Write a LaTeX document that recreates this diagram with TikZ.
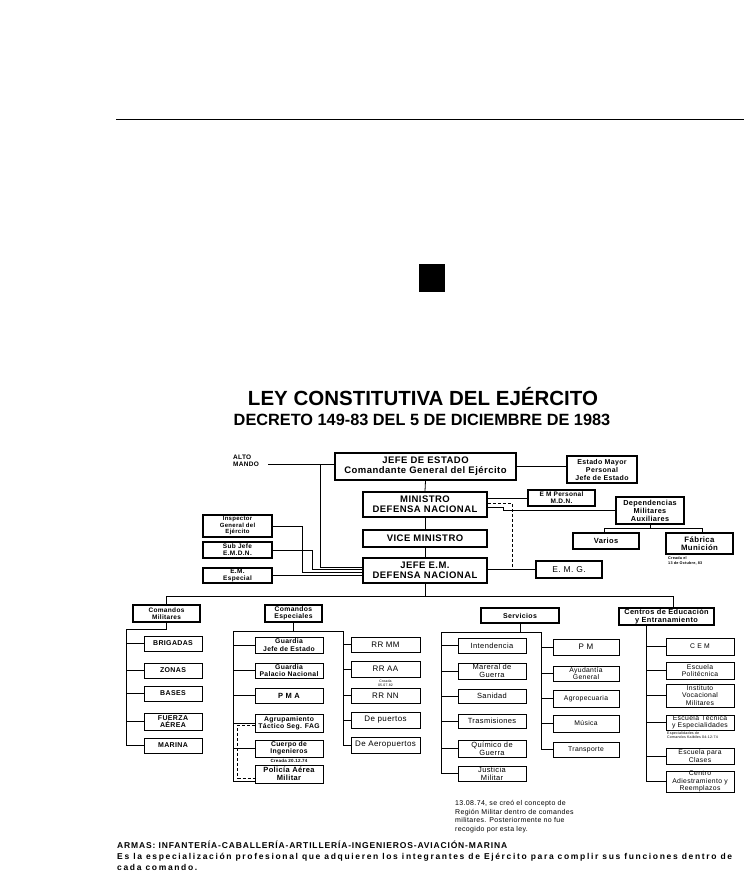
\documentclass[tikz,border=0pt]{standalone}
\usepackage{fontspec}
\setmainfont{Liberation Sans}[LetterSpace=5]
\newfontfamily\plainsans{Liberation Sans}
\newfontfamily\trkA{Liberation Sans}[LetterSpace=10]
\newfontfamily\trkB{Liberation Sans}[LetterSpace=19.5]
\newcommand{\myfs}[2]{\fontsize{#1}{#2}\selectfont}
\tikzset{
  bx/.style={draw, line width=0.8pt, inner sep=0pt, align=center},
  tbx/.style={bx, line width=1.7pt},
  conn/.style={line width=0.8pt},
  dconn/.style={line width=0.8pt, dash pattern=on 3pt off 2pt},
  note/.style={inner sep=0pt, align=left},
  ca/.style={bx, minimum width=58pt, font=\myfs{7}{7.5}\bfseries},
  ce/.style={bx, minimum width=68pt, font=\myfs{6.8}{7.2}\bfseries},
  cr/.style={bx, minimum width=69pt, font=\myfs{8}{8.5}},
  sl/.style={bx, minimum width=68pt, font=\myfs{7.5}{8}},
  sr/.style={bx, minimum width=66pt, font=\myfs{6.8}{7.2}},
  cc/.style={bx, minimum width=68pt, font=\myfs{6.8}{7.2}},
}
\begin{document}
\begin{tikzpicture}[x=1pt,y=-1pt]
\useasboundingbox (0,0) rectangle (744,872);
% header rule and mark
\draw[line width=1pt] (116,120) -- (744,120);
\fill (419,264) rectangle (445,292);
% titles
\node[font=\plainsans\myfs{20.5}{23}\bfseries] (t1) at (423,397) {LEY CONSTITUTIVA DEL EJÉRCITO};
\node[font=\plainsans\myfs{16.3}{18}\bfseries] (t2) at (422,420) {DECRETO 149-83 DEL 5 DE DICIEMBRE DE 1983};
% top part
\node[tbx, minimum width=181pt, minimum height=27pt, font=\myfs{9.5}{10}\bfseries] (jefe) at (425.5,466.5) {JEFE DE ESTADO\\Comandante General del Ejército};
\node[tbx, minimum width=70pt, minimum height=27pt, font=\myfs{7}{8}\bfseries] (estmay) at (602,469.5) {Estado Mayor\\Personal\\Jefe de Estado};
\node[note, anchor=north west, font=\myfs{6.5}{7}\bfseries] (alto) at (233,455) {ALTO\\MANDO};
\node[tbx, minimum width=124pt, minimum height=25pt, font=\myfs{9.5}{10}\bfseries] (min) at (425,504.5) {MINISTRO\\DEFENSA NACIONAL};
\node[tbx, minimum width=124pt, minimum height=17pt, font=\myfs{9.5}{10}\bfseries] (vice) at (425,538.5) {VICE MINISTRO};
\node[tbx, minimum width=124pt, minimum height=25pt, font=\myfs{9.5}{10}\bfseries] (jem) at (425,570.5) {JEFE E.M.\\DEFENSA NACIONAL};
\node[tbx, minimum width=67pt, minimum height=16pt, font=\myfs{6.5}{7}\bfseries] (emp) at (561.5,498) {E M Personal\\M.D.N.};
\node[tbx, minimum width=68pt, minimum height=27pt, font=\myfs{7.3}{8}\bfseries] (dep) at (650,510.5) {Dependencias\\Militares\\Auxiliares};
\node[tbx, minimum width=66pt, minimum height=16pt, font=\myfs{7.5}{8}\bfseries] (var) at (606,541) {Varios};
\node[tbx, minimum width=67pt, minimum height=21pt, font=\myfs{7.8}{8.5}\bfseries] (fab) at (699.5,543.5) {Fábrica\\Munición};
\node[note, anchor=north west, font=\myfs{3.8}{4.3}\bfseries] (fabn) at (668,557) {Creada el\\13 de Octubre, 83};
\node[bx, line width=1.3pt, minimum width=66pt, minimum height=17pt, font=\myfs{8.5}{9}] (emg) at (569,569.5) {E. M. G.};
\node[tbx, minimum width=69pt, minimum height=22pt, font=\myfs{6}{6.5}\bfseries] (insp) at (237.5,526) {Inspector\\General del\\Ejército};
\node[tbx, minimum width=69pt, minimum height=16pt, font=\myfs{6.5}{7}\bfseries] (subj) at (237.5,550) {Sub Jefe\\E.M.D.N.};
\node[tbx, minimum width=69pt, minimum height=15pt, font=\myfs{6.5}{7}\bfseries] (emesp) at (237.5,575.5) {E.M.\\Especial};
% top connectors
\coordinate (am) at (268,464);
\coordinate (amx) at (320,464);
\draw[conn] (am) -- (am -| jefe.west);
\draw[conn] (amx) |- ([yshift=3.5pt]jem.west);
\draw[conn] (jefe.south) -- (min.north);
\draw[conn] (min.south) -- (vice.north);
\draw[conn] (vice.south) -- (jem.north);
\draw[conn] (jefe.east) -- (jefe.east -| estmay.west);
\draw[conn] (emp.west) -- (emp.west -| min.east);
\coordinate (dx) at (512,0);
\coordinate (kx) at (503,0);
\draw[dconn] ([yshift=1.5pt]min.east) -| (dx |- emg.west);
\draw[conn] ([yshift=-2.5pt]min.east) -| (kx |- dep.west) -- (dep.west);
\draw[conn] (emg.west) -- (emg.west -| jem.east);
\coordinate (dbus) at (0,528);
\draw[conn] (dep.south) -- (dep.south |- dbus);
\draw[conn] ([xshift=-2pt]var.north) |- ([xshift=2.5pt]fab.north |- dbus) -- ([xshift=2.5pt]fab.north);
\draw[conn] (insp.east) -- ++(30,0) |- ([yshift=-1.5pt]jem.west);
\draw[conn] (subj.east) -- ++(40,0) |- ([yshift=1.5pt]jem.west);
\draw[conn] (emesp.east) -- (emesp.east -| jem.west);
% lower heads
\node[tbx, minimum width=67pt, minimum height=17pt, font=\myfs{6.5}{7}\bfseries] (cmil) at (166.5,613.5) {Comandos\\Militares};
\node[tbx, minimum width=57pt, minimum height=17pt, font=\myfs{6.8}{7.2}\bfseries] (cesp) at (293.5,613.5) {Comandos\\Especiales};
\node[tbx, minimum width=78pt, minimum height=15pt, font=\myfs{7}{7.5}\bfseries] (serv) at (520,615.5) {Servicios};
\node[tbx, minimum width=95pt, minimum height=17pt, font=\myfs{7.4}{7.6}\bfseries] (cent) at (666.5,616.5) {Centros de Educación\\y Entranamiento};
\coordinate (bus) at (0,596);
\coordinate (cx) at (673,0);
\draw[conn] (jem.south) -- (jem.south |- bus);
\draw[conn] (cmil.north) |- (cx |- bus) -- (cx |- cent.north);
% Comandos Militares
\node[ca, minimum height=15pt] (brig) at (173,643.5) {BRIGADAS};
\node[ca, minimum height=15pt] (zon) at (173,670.5) {ZONAS};
\node[ca, minimum height=15pt] (bas) at (173,693.5) {BASES};
\node[ca, minimum height=17pt] (fza) at (173,721.5) {FUERZA\\AÉREA};
\node[ca, minimum height=15pt] (mar) at (173,745.5) {MARINA};
\coordinate (cmv) at (126,629);
\draw[conn] (cmil.south) |- (cmv) |- (mar.west);
\foreach \n in {brig,zon,bas,fza} \draw[conn] (\n.west) -- (\n.west -| cmv);
% Comandos Especiales
\node[ce, minimum height=16pt] (gje) at (289,645) {Guardia\\Jefe de Estado};
\node[ce, minimum height=15pt] (gpn) at (289,670.5) {Guardia\\Palacio Nacional};
\node[ce, minimum height=15pt, font=\myfs{7.5}{8}\bfseries] (pma) at (289,695.5) {P M A};
\node[ce, minimum height=18pt] (agr) at (289,723) {Agrupamiento\\Táctico Seg. FAG};
\node[ce, minimum height=17pt] (cing) at (289,748.5) {Cuerpo de\\Ingenieros};
\node[note, font=\myfs{4.5}{5}\bfseries] (cingn) at (289,760.5) {Creada 20.12.74};
\node[ce, minimum height=18pt, font=\myfs{7.5}{7.8}\bfseries] (pam) at (289,774) {Policía Aérea\\Militar};
\node[cr, minimum height=15pt] (rrmm) at (385.5,644.5) {RR MM};
\node[cr, minimum height=16pt] (rraa) at (385.5,669) {RR AA};
\node[note, align=center, font=\myfs{3.5}{3.8}] (rraan) at (385.5,683) {Creada\\05.07.82};
\node[cr, minimum height=15pt] (rrnn) at (385.5,695.5) {RR NN};
\node[cr, minimum height=16pt] (dpu) at (385.5,720) {De puertos};
\node[cr, minimum height=16pt] (dae) at (385.5,745) {De Aeropuertos};
\coordinate (cel) at (233,631);
\coordinate (cer) at (343,631);
\draw[conn] (cesp.south) -- (cesp.south |- cel);
\draw[conn] (cel) -- (cer);
\draw[conn] (cel) |- ([yshift=-7pt]pam.west);
\foreach \n in {gje,gpn,pma,agr,cing} \draw[conn] (\n.west) -- (\n.west -| cel);
\draw[dconn] ([yshift=-2pt]agr.west) -- ++(-17,0) |- ([yshift=-4pt]pam.west);
\draw[conn] (cer) |- (dae.west);
\foreach \n in {rrmm,rraa,rrnn,dpu} \draw[conn] (\n.west) -- (\n.west -| cer);
% Servicios
\node[sl, minimum height=15pt] (int) at (492,645.5) {Intendencia};
\node[sl, minimum height=16pt] (mat) at (492,671) {Mareral de\\Guerra};
\node[sl, minimum height=14pt] (san) at (492,696) {Sanidad};
\node[sl, minimum height=14pt] (tra) at (492,721) {Trasmisiones};
\node[sl, minimum height=17pt] (qui) at (492,748.5) {Químico de\\Guerra};
\node[sl, minimum height=15pt] (jus) at (492,773.5) {Justicia\\Militar};
\node[sr, minimum height=16pt, font=\myfs{8}{8.5}] (pm) at (586,647) {P M};
\node[sr, minimum height=15pt] (ayu) at (586,673.5) {Ayudantía\\General};
\node[sr, minimum height=17pt] (agro) at (586,698.5) {Agropecuaria};
\node[sr, minimum height=17pt] (mus) at (586,723.5) {Música};
\node[sr, minimum height=15pt] (trp) at (586,749.5) {Transporte};
\coordinate (sl) at (441,632);
\coordinate (sr) at (541,632);
\draw[conn] (serv.south) -- (serv.south |- sl);
\draw[conn] (sl) -- (sr);
\draw[conn] (sl) |- (jus.west);
\foreach \n in {int,mat,san,tra,qui} \draw[conn] (\n.west) -- (\n.west -| sl);
\draw[conn] (sr) |- (trp.west);
\foreach \n in {pm,ayu,agro,mus} \draw[conn] (\n.west) -- (\n.west -| sr);
% Centros
\node[cc, minimum height=17pt] (cem) at (700,646.5) {C E M};
\node[cc, minimum height=17pt] (pol) at (700,670.5) {Escuela\\Politécnica};
\node[cc, minimum height=23pt] (ivm) at (700,695.5) {Instituto\\Vocacional\\Militares};
\node[cc, minimum height=15pt] (etc) at (700,722.5) {Escuela Técnica\\y Especialidades};
\node[note, anchor=north west, font=\myfs{3.6}{4}] (etcn) at (667,732) {Especialidades de\\Comandos Kaibiles 04-12-74};
\node[cc, minimum height=16pt] (epc) at (700,756) {Escuela para\\Clases};
\node[cc, minimum height=21pt] (car) at (700,781.5) {Centro\\Adiestramiento y\\Reemplazos};
\coordinate (cv) at (646,0);
\draw[conn] (cv |- cent.south) |- (car.west);
\foreach \n in {cem,pol,ivm,etc,epc} \draw[conn] (\n.west) -- (\n.west -| cv);
% notes
\node[note, anchor=north west, font=\myfs{7}{8.7}] (nota) at (455,800) {13.08.74, se creó el concepto de\\Región Militar dentro de comandes\\militares. Posteriormente no fue\\recogido por esta ley.};
\node[note, anchor=base west, font=\trkA\myfs{8.5}{11}\bfseries] (armas) at (117,848) {ARMAS: INFANTERÍA-CABALLERÍA-ARTILLERÍA-INGENIEROS-AVIACIÓN-MARINA};
\node[note, anchor=base west, font=\trkB\myfs{8.5}{11}\bfseries] (armas2) at (117,859) {Es la especialización profesional que adquieren los integrantes de Ejército para complir sus funciones dentro de};
\node[note, anchor=base west, font=\trkB\myfs{8.5}{11}\bfseries] (armas3) at (117,870) {cada comando.};
\end{tikzpicture}
\end{document}
